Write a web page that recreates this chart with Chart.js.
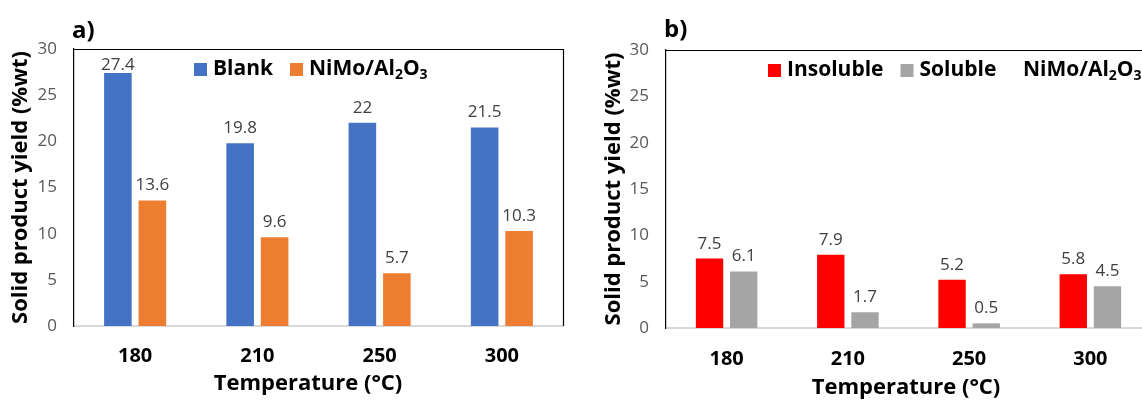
<!DOCTYPE html>
<html>
<head>
<meta charset="utf-8">
<script src="https://cdn.jsdelivr.net/npm/chart.js@4"></script>
<style>
  html, body { margin: 0; padding: 0; background: #fff; overflow: hidden; width: 1142px; height: 400px; }
  #wrapA { position: absolute; left: 0; top: 0; width: 580px; height: 400px; }
  #wrapB { position: absolute; left: 590px; top: 0; width: 570px; height: 400px; }
</style>
</head>
<body>
<div id="wrapA"><canvas id="chartA" width="580" height="400"></canvas></div>
<div id="wrapB"><canvas id="chartB" width="570" height="400"></canvas></div>
<script>
// reaction temperatures (°C)
const temperatures = ['180', '210', '250', '300'];

// a) solid yield without / with catalyst
const blankYield = [27.4, 19.8, 22, 21.5];
const nimoYield = [13.6, 9.6, 5.7, 10.3];

// b) NiMo/Al2O3 solid split
const insolubleYield = [7.5, 7.9, 5.2, 5.8];
const solubleYield = [6.1, 1.7, 0.5, 4.5];

const yTicks = [0, 5, 10, 15, 20, 25, 30];

const FONT = '"Open Sans"';
const catalystName = [['NiMo/Al'], ['2', true], ['O'], ['3', true]];

// text with subscripts, left aligned at x, vertically centred on y
function drawRich(ctx, parts, x, y, size) {
  ctx.textBaseline = 'middle';
  ctx.textAlign = 'left';
  for (const [txt, sub] of parts) {
    const s = sub ? Math.round(size * 0.65) : size;
    ctx.font = `bold ${s}px ${FONT}`;
    ctx.fillText(txt, x, sub ? y + size * 0.28 : y);
    x += ctx.measureText(txt).width;
  }
  return x;
}

// value above each bar, kept inside the plot area
const valueLabels = {
  id: 'valueLabels',
  afterDatasetsDraw(chart) {
    const ctx = chart.ctx;
    const top = chart.chartArea.top;
    ctx.save();
    ctx.font = `17px ${FONT}`;
    ctx.fillStyle = '#404040';
    ctx.textAlign = 'center';
    ctx.textBaseline = 'alphabetic';
    chart.data.datasets.forEach((ds, i) => {
      chart.getDatasetMeta(i).data.forEach((bar, j) => {
        const y = Math.max(bar.y - 10, top + 21);
        ctx.fillText(String(ds.data[j]), bar.x, y);
      });
    });
    ctx.restore();
  }
};

// plot frame, axis title, legend with subscripts and the panel letter
const decorations = {
  id: 'decorations',
  afterDraw(chart, args, opts) {
    const ctx = chart.ctx;
    const a = chart.chartArea;
    ctx.save();
    ctx.strokeStyle = '#000';
    ctx.lineWidth = 1.2;
    ctx.beginPath();
    ctx.moveTo(a.left, a.top + 0.5);
    ctx.lineTo(a.right + 0.5, a.top + 0.5);
    ctx.lineTo(a.right + 0.5, a.bottom);
    ctx.stroke();

    ctx.fillStyle = '#000';
    ctx.font = `bold 24px ${FONT}`;
    ctx.textBaseline = 'middle';
    ctx.textAlign = 'left';
    ctx.fillText(opts.letter, opts.letterX, opts.letterY);

    ctx.font = `bold 22px ${FONT}`;
    ctx.textAlign = 'center';
    ctx.textBaseline = 'alphabetic';
    ctx.fillText('Temperature (°C)', opts.titleX, opts.titleY);

    let x = opts.legendX;
    const y = opts.legendY;
    chart.data.datasets.forEach((ds, i) => {
      ctx.fillStyle = ds.backgroundColor;
      ctx.fillRect(x, y - 6, 13, 13);
      ctx.fillStyle = '#000';
      x = drawRich(ctx, opts.names[i], x + 19, y, 21) + 17;
    });
    if (opts.note) {
      ctx.fillStyle = '#000';
      drawRich(ctx, opts.note, opts.noteX, y, 21);
    }
    ctx.restore();
  }
};

function makeOptions(cfg) {
  return {
    responsive: false,
    animation: false,
    layout: { padding: { top: cfg.top, right: cfg.right, bottom: 0, left: 0 } },
    datasets: { bar: { categoryPercentage: 0.564, barPercentage: 0.8 } },
    plugins: {
      legend: { display: false },
      tooltip: { enabled: false },
      decorations: cfg.deco
    },
    scales: {
      x: {
        grid: { display: false, drawTicks: false },
        border: { display: true, color: '#d9d9d9', width: 2 },
        ticks: { color: '#000', font: { family: FONT, size: 20, weight: 'bold' }, padding: cfg.xTickPad },
        afterFit(scale) { scale.height = cfg.xHeight; }
      },
      y: {
        min: 0, max: 30,
        grid: { display: false, drawTicks: false },
        border: { display: true, color: '#000', width: 1.2 },
        afterBuildTicks(scale) { scale.ticks = yTicks.map(v => ({ value: v })); },
        ticks: { color: '#595959', font: { family: FONT, size: 17 }, padding: 17 },
        title: {
          display: true, text: 'Solid product yield (%wt)', color: '#000',
          font: { family: FONT, size: 22, weight: 'bold', lineHeight: 1 },
          padding: { top: cfg.yTitlePad, bottom: 0 }
        },
        afterFit(scale) { scale.width = cfg.yWidth; }
      }
    }
  };
}

new Chart(document.getElementById('chartA'), {
  type: 'bar',
  data: {
    labels: temperatures,
    datasets: [
      { label: 'Blank', data: blankYield, backgroundColor: '#4472C4' },
      { label: 'NiMo/Al2O3', data: nimoYield, backgroundColor: '#ED7D31' }
    ]
  },
  options: makeOptions({
    top: 49, right: 17, xHeight: 74, yWidth: 74, xTickPad: 18, yTitlePad: 10,
    deco: {
      letter: 'a)', letterX: 72, letterY: 31,
      titleX: 308, titleY: 390,
      legendX: 194, legendY: 69,
      names: [[['Blank']], catalystName]
    }
  }),
  plugins: [valueLabels, decorations]
});

new Chart(document.getElementById('chartB'), {
  type: 'bar',
  data: {
    labels: temperatures,
    datasets: [
      { label: 'Insoluble', data: insolubleYield, backgroundColor: '#FF0000' },
      { label: 'Soluble', data: solubleYield, backgroundColor: '#A5A5A5' }
    ]
  },
  options: makeOptions({
    top: 50, right: 9, xHeight: 72, yWidth: 76, xTickPad: 19, yTitlePad: 13,
    deco: {
      letter: 'b)', letterX: 74, letterY: 30,
      titleX: 316, titleY: 394,
      legendX: 178, legendY: 70,
      names: [[['Insoluble']], [['Soluble']]],
      note: catalystName, noteX: 433
    }
  }),
  plugins: [valueLabels, decorations]
});
</script>
</body>
</html>
